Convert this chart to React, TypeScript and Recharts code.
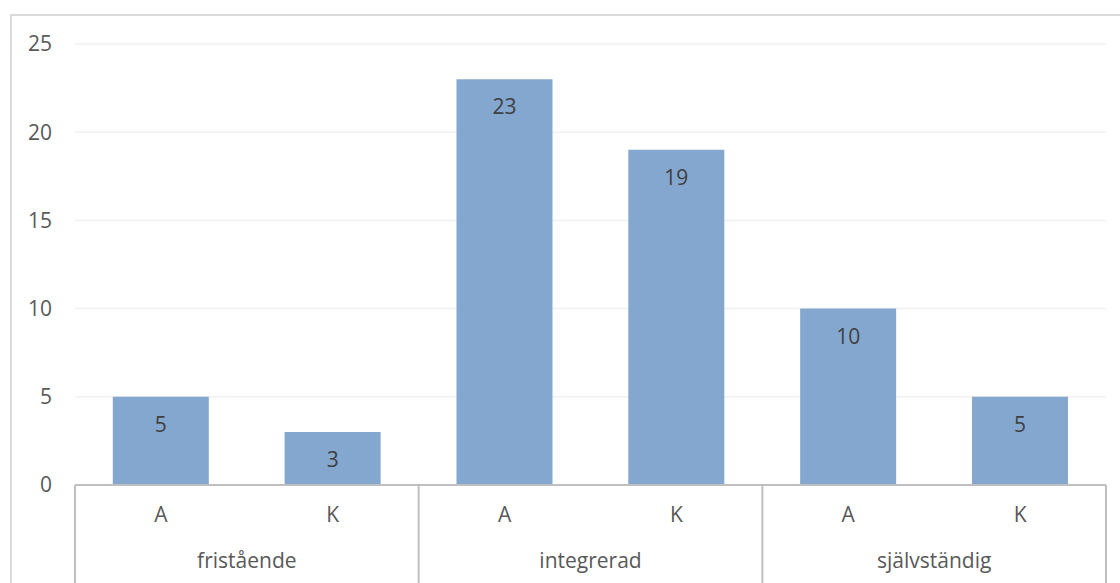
import React from 'react';
import { BarChart, Bar, XAxis, YAxis, CartesianGrid, LabelList } from 'recharts';

const groups = ['fristående', 'fristående', 'integrerad', 'integrerad', 'självständig', 'självständig'];
const subLabels = ['A', 'K', 'A', 'K', 'A', 'K'];
const counts = [5, 3, 23, 19, 10, 5];
const yTicks = [0, 5, 10, 15, 20, 25];

const data = counts.map((value, i) => ({ sub: subLabels[i], group: groups[i], value }));

const WIDTH = 1120;
const HEIGHT = 583;
const MARGIN = { top: 44, right: 14, bottom: 0, left: 0 };
const Y_WIDTH = 75;
const SUB_HEIGHT = 45;
const GROUP_HEIGHT = 53;
const BAND = (WIDTH - MARGIN.left - MARGIN.right - Y_WIDTH) / data.length;

const FONT = '"Open Sans", sans-serif';
const FONT_SIZE = 21;
const TEXT = '#595959';
const RULE = '#BFBFBF';

const SubTick = (props: any) => {
  const { x, y, payload } = props;
  return (
    <text x={x} y={y + 22} dy="0.71em" textAnchor="middle" fill={TEXT} fontSize={FONT_SIZE} fontFamily={FONT}>
      {payload.value}
    </text>
  );
};

// group labels sit between the A/K pair; separators run through both tick rows
const GroupTick = (props: any) => {
  const { x, y, payload, index } = props;
  const top = y - SUB_HEIGHT;
  const bottom = y + GROUP_HEIGHT;
  const first = index === 0 || groups[index - 1] !== payload.value;
  const last = index === groups.length - 1;
  return (
    <g>
      {first && (
        <>
          <line x1={x - BAND / 2} x2={x - BAND / 2} y1={top} y2={bottom} stroke={RULE} strokeWidth={2} />
          <text x={x + BAND / 2} y={y + 23} dy="0.71em" textAnchor="middle" fill={TEXT} fontSize={FONT_SIZE} fontFamily={FONT}>
            {payload.value}
          </text>
        </>
      )}
      {last && <line x1={x + BAND / 2} x2={x + BAND / 2} y1={top} y2={bottom} stroke={RULE} strokeWidth={2} />}
    </g>
  );
};

const App: React.FC = () => {
  return (
    <div style={{ position: 'absolute', left: 0, top: 0, width: WIDTH, height: HEIGHT, background: '#fff', overflow: 'hidden' }}>
      <div
        style={{
          position: 'absolute',
          left: 10,
          top: 14,
          width: WIDTH,
          height: HEIGHT,
          borderTop: '2px solid #D9D9D9',
          borderLeft: '2px solid #D9D9D9',
        }}
      />
      <div style={{ position: 'absolute', left: 0, top: 0 }}>
        <BarChart width={WIDTH} height={HEIGHT} data={data} margin={MARGIN} barCategoryGap="22%" style={{ fontFamily: FONT }}>
          <CartesianGrid vertical={false} stroke="#F0F0F0" strokeWidth={1.5} />
          <YAxis
            domain={[0, 25]}
            ticks={yTicks}
            width={Y_WIDTH}
            axisLine={false}
            tickLine={false}
            tickSize={0}
            tickMargin={23}
            tick={{ fill: TEXT, fontSize: FONT_SIZE, fontFamily: FONT }}
          />
          <XAxis
            dataKey="sub"
            height={SUB_HEIGHT}
            interval={0}
            axisLine={{ stroke: RULE, strokeWidth: 2 }}
            tickLine={false}
            tickSize={0}
            tickMargin={0}
            tick={<SubTick />}
          />
          <XAxis
            xAxisId="group"
            dataKey="group"
            height={GROUP_HEIGHT}
            interval={0}
            axisLine={false}
            tickLine={false}
            tickSize={0}
            tickMargin={0}
            tick={<GroupTick />}
          />
          <Bar dataKey="value" fill="#84A7CF" isAnimationActive={false}>
            <LabelList dataKey="value" position="insideTop" offset={20} fill="#404040" fontSize={FONT_SIZE} fontFamily={FONT} />
          </Bar>
        </BarChart>
      </div>
    </div>
  );
};

export default App;
